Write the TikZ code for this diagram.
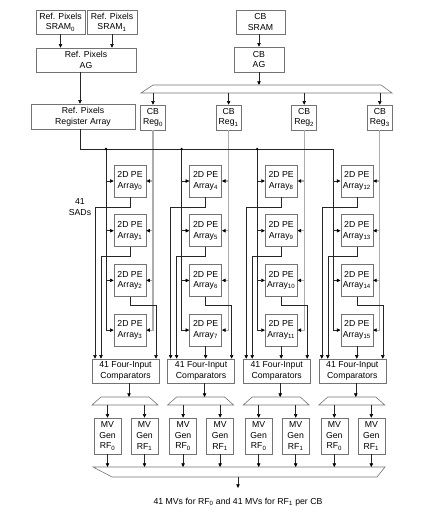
\documentclass[tikz,border=0pt]{standalone}
\usepackage{fontspec}
\setmainfont{Liberation Sans}
\usetikzlibrary{arrows.meta}

\tikzset{
  blk/.style={draw=black!55, line width=0.6pt, inner sep=0pt, align=center,
    font=\fontsize{8.7}{10.6}\selectfont},
  lbl/.style={inner sep=0pt, align=center, font=\fontsize{8.7}{10.6}\selectfont},
  wire/.style={draw=black!85, line width=0.5pt},
  cbwire/.style={draw=black!32, line width=1.2pt},
  bus/.style={draw=black!55, line width=0.6pt},
  tip/.style={-{Triangle[length=3.6pt,width=3.4pt,color=black]}},
  dot/.style={fill=black}
}

\begin{document}
\begin{tikzpicture}[x=1pt,y=-1pt]
		\useasboundingbox (0,0) rectangle (430,512);

		% reference pixel path
		\node [blk, minimum width=49pt, minimum height=24pt] (sram0) at (60.5,22) {Ref. Pixels\\SRAM\textsubscript{0}};
		\node [blk, minimum width=50pt, minimum height=24pt] (sram1) at (112,22) {Ref. Pixels\\SRAM\textsubscript{1}};
		\node [blk, minimum width=100pt, minimum height=24pt] (refag) at (86,60) {Ref. Pixels\\AG};
		\node [blk, minimum width=104pt, minimum height=25pt] (refreg) at (83,116.5) {Ref. Pixels\\Register Array};
		\coordinate (rb) at (80,149);

		\draw [wire, tip] (sram0.south) -- (sram0.south |- refag.north);
		\draw [wire, tip] (sram1.south) -- (sram1.south |- refag.north);
		\draw [wire, tip] (refag.south -| rb) -- (refreg.north -| rb);

		% current block path
		\node [blk, minimum width=49pt, minimum height=24pt] (cbsram) at (260.5,22) {CB\\SRAM};
		\node [blk, minimum width=50pt, minimum height=25pt] (cbag) at (259,59.5) {CB\\AG};
		\coordinate (cbtop) at (0,85);
		\coordinate (cbbot) at (0,93);
		\draw [bus] (153,85) -- (381,85) -- (392,93) -- (141,93) -- cycle;
		\draw [wire, tip] (cbsram.south -| cbag.south) -- (cbag.north);
		\draw [wire, tip] (cbag.south) -- (cbag.south |- cbtop);

		\node [lbl] (sads) at (80,207) {41\\SADs};

		% output bus
		\coordinate (obtop) at (0,467);
		\coordinate (ob) at (238,477);
		\draw [bus] (93,467) -- (385,467) -- (377,477) -- (112,477) -- cycle;
		\node [lbl, anchor=base] (out) at (238,504) {41 MVs for RF\textsubscript{0} and 41 MVs for RF\textsubscript{1} per CB};
		\draw [wire, tip] (ob) -- ++(0,11);

		\foreach \k in {0,1,2,3} {
			\pgfmathsetmacro\dx{75.6*\k}
			\pgfmathtruncatemacro\m{4*\k+3}

			\node [blk, minimum width=25pt, minimum height=25pt] (reg\k) at (153+\dx,117.5) {CB\\Reg\textsubscript{\k}};
			\draw [wire, tip] (reg\k.north |- cbbot) -- (reg\k.north);

			\coordinate (lb\k) at (106+\dx,149);
			\coordinate (sa\k) at (95+\dx,0);
			\coordinate (sb\k) at (101+\dx,0);
			\coordinate (sc\k) at (156+\dx,0);

			\foreach \r in {0,1,2,3} {
				\pgfmathtruncatemacro\n{4*\k+\r}
				\node [blk, minimum width=32pt, minimum height=32pt] (pe\n) at (130+\dx,181+49.7*\r) {2D PE\\Array\textsubscript{\n}};
			}

			% pixel and block feeds
			\draw [wire, tip] (lb\k) |- (pe\m.west);
			\draw [cbwire, tip] (reg\k.south) |- (pe\m.east);
			\foreach \r in {0,1,2} {
				\pgfmathtruncatemacro\n{4*\k+\r}
				\draw [wire, tip] (lb\k |- pe\n.west) -- (pe\n.west);
				\draw [cbwire, tip] (reg\k.south |- pe\n.east) -- (pe\n.east);
			}

			\node [blk, minimum width=67pt, minimum height=24pt] (cmp\k) at (125.5+\dx,371) {41 Four-Input\\Comparators};

			% SADs to comparators
			\pgfmathtruncatemacro\na{4*\k}
			\pgfmathtruncatemacro\nb{4*\k+1}
			\pgfmathtruncatemacro\nc{4*\k+2}
			\draw [wire, tip] (pe\na.south) -- ++(0,10) -| (cmp\k.north -| sa\k);
			\draw [wire, tip] (pe\nb.south) -- ++(0,9) -| (cmp\k.north -| sb\k);
			\draw [wire, tip] (pe\nc.south) -- ++(0,9) -| (cmp\k.north -| sc\k);
			\ifnum\k>0
				\draw [wire, tip] (pe\m.south) -- (pe\m.south |- cmp\k.north);
			\fi

			% split to motion vector generators
			\coordinate (mx\k) at (129+\dx,397);
			\coordinate (mxb\k) at (125+\dx,405);
			\draw [bus] (101+\dx,397) -- (149+\dx,397) -- (158+\dx,405) -- (92+\dx,405) -- cycle;
			\draw [wire, tip] (cmp\k.south -| mx\k) -- (mx\k);

			\node [blk, minimum width=27pt, minimum height=36pt] (mva\k) at (107.5+\dx,436) {MV\\Gen\\RF\textsubscript{0}};
			\node [blk, minimum width=27pt, minimum height=36pt] (mvb\k) at (144.5+\dx,436) {MV\\Gen\\RF\textsubscript{1}};
			\draw [wire, tip] (mva\k.north |- mxb\k) -- (mva\k.north);
			\draw [wire, tip] (mvb\k.north |- mxb\k) -- (mvb\k.north);
			\draw [wire, tip] (mva\k.south) -- (mva\k.south |- obtop);
			\draw [wire, tip] (mvb\k.south) -- (mvb\k.south |- obtop);
		}

		% reference pixel distribution
		\draw [wire] (refreg.south -| rb) -- (rb) -- (lb3);
		\fill [dot] (lb0) circle (1.3pt);
		\fill [dot] (lb1) circle (1.3pt);
		\fill [dot] (lb2) circle (1.3pt);

		\end{tikzpicture}
\end{document}
